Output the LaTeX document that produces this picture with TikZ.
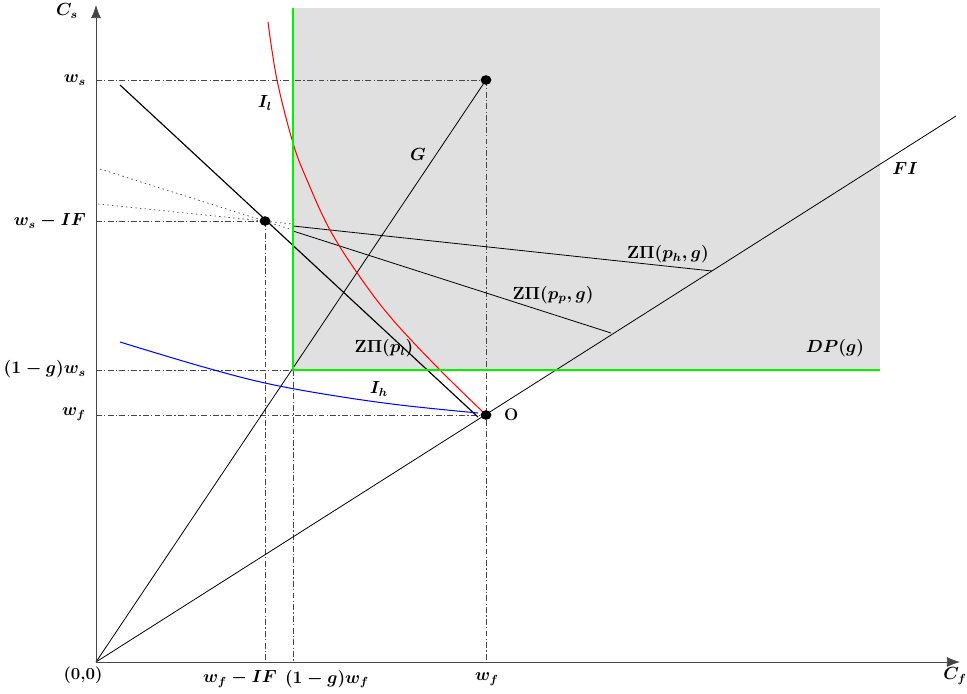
\documentclass[tikz,border=0pt]{standalone}
\usepackage{amsmath,amssymb}
\usepackage{bm}
\usetikzlibrary{arrows.meta,positioning,calc,shapes.geometric}
\definecolor{zonegray} {RGB}{224,224,224}
\definecolor{dpgreen}  {RGB}{0,240,0}
\definecolor{axisgray} {RGB}{70,70,70}

\begin{document}
\begin{tikzpicture}[
  x=0.024cm,y=-0.024cm,
  >=Latex,
  axis/.style={draw=axisgray,semithick,-{Latex[length=9pt,width=7pt]}},
  guide/.style={draw=axisgray,line width=0.5pt,
                dash pattern=on 4pt off 1.6pt on 0.8pt off 1.6pt},
  ray/.style={draw=black,line width=0.55pt},
  budget/.style={draw=black,line width=0.8pt},
  dots/.style={draw=black!70,line width=0.5pt,dash pattern=on 1pt off 2.2pt},
  dpline/.style={draw=dpgreen,line width=1.3pt},
  pt/.style={ellipse,fill=black,inner sep=0pt,minimum width=0.26cm,
             minimum height=0.23cm},
  lbl/.style={font=\fontsize{11.5}{13}\selectfont\boldmath},
]
\useasboundingbox (0,0) rectangle (967,693);

%% ── Points ───────────────────────────────────────────────────────────────────
\coordinate (O0) at (96,662);
\coordinate (Ytop) at (96,5);
\coordinate (Xend) at (960,662);
\coordinate (W) at (486,80);
\coordinate (E) at (265,221);
\coordinate (Wf) at (486,415);
\coordinate (K) at (293,370);

%% ── Zone DP(g) ───────────────────────────────────────────────────────────────
\fill[zonegray] (293,8) rectangle (880,370);

%% ── Guide lines ──────────────────────────────────────────────────────────────
\draw[guide] (O0 |- W) -- (W);
\draw[guide] (W) -- (W |- O0);
\draw[guide] (O0 |- E) -- (E);
\draw[guide] (E) -- (E |- O0);
\draw[guide] (O0 |- K) -- (K);
\draw[guide] (K) -- (K |- O0);
\draw[guide] (O0 |- Wf) -- (Wf);

%% ── Rays from the origin ─────────────────────────────────────────────────────
\draw[ray] (O0) -- (W);
\coordinate (FIend) at (956,116);
\draw[ray] (O0) -- (FIend);

%% ── Budget line and dotted lines ─────────────────────────────────────────────
\coordinate (B1) at (120,85);
\coordinate (B2) at (478,417);
\draw[budget] (B1) -- (B2);
\draw[dots] (100,169) -- (293,230);
\draw[dots] (98,204) -- (293,224);

%% ── Z Pi lines ───────────────────────────────────────────────────────────────
\coordinate (Ph) at (712,271);
\coordinate (Pp) at (611,333);
\draw[ray] (293,226) -- (Ph);
\draw[ray] (293,231) -- (Pp);

%% ── Indifference curves ──────────────────────────────────────────────────────
\draw[red,line width=0.7pt] plot[smooth,tension=0.6] coordinates
  {(268,22) (277,80) (293,143) (307,180) (330,230) (360,277)
   (393,320) (440,370) (483,412)};
\draw[blue,line width=0.7pt] plot[smooth,tension=0.6] coordinates
  {(120,342) (200,366) (265,383) (330,395) (400,405) (478,413)};

%% ── Boundary of DP(g) ────────────────────────────────────────────────────────
\draw[dpline] (293,8) -- (K) -- (880,370);

%% ── Axes ─────────────────────────────────────────────────────────────────────
\draw[axis] (O0) -- (Ytop);
\draw[axis] (O0) -- (Xend);

%% ── Dots ─────────────────────────────────────────────────────────────────────
\node[pt] (dW) at (W) {};
\node[pt] (dE) at (E) {};
\node[pt] (dO) at (Wf) {};

%% ── Labels ───────────────────────────────────────────────────────────────────
\node[lbl] (Cs) at (67,11) {$C_s$};
\node[lbl] (Cf) at (955,676) {$C_f$};
\node[lbl,anchor=east] (lws) at (91,80) {$w_s$};
\node[lbl,anchor=east] (lwsIF) at (91,221) {$w_s-IF$};
\node[lbl,anchor=east] (lgws) at (91,369) {$(1-g)w_s$};
\node[lbl,anchor=east] (lwf) at (91,414) {$w_f$};
\node[lbl] (l00) at (83,675) {\textbf{(0,0)}};
\node[lbl] (lwfIF) at (240,679) {$w_f-IF$};
\node[lbl] (lgwf) at (327,679) {$(1-g)w_f$};
\node[lbl] (lwf2) at (487,679) {$w_f$};
\node[lbl] (lO) at (dO.east) [right=5pt] {\textbf{O}};
\node[lbl] (lG) at (418,154) {$G$};
\node[lbl] (lFI) at (905,168) {$FI$};
\node[lbl] (lIl) at (265,103) {$I_l$};
\node[lbl] (lIh) at (379,389) {$I_h$};
\node[lbl] (lZh) at (668,254) {$\mathbf{Z}\Pi(p_h,g)$};
\node[lbl] (lZp) at (553,295) {$\mathbf{Z}\Pi(p_p,g)$};
\node[lbl] (lZl) at (384,348) {$\mathbf{Z}\Pi(p_l)$};
\node[lbl] (lDP) at (835,348) {$DP(g)$};

\end{tikzpicture}
\end{document}
